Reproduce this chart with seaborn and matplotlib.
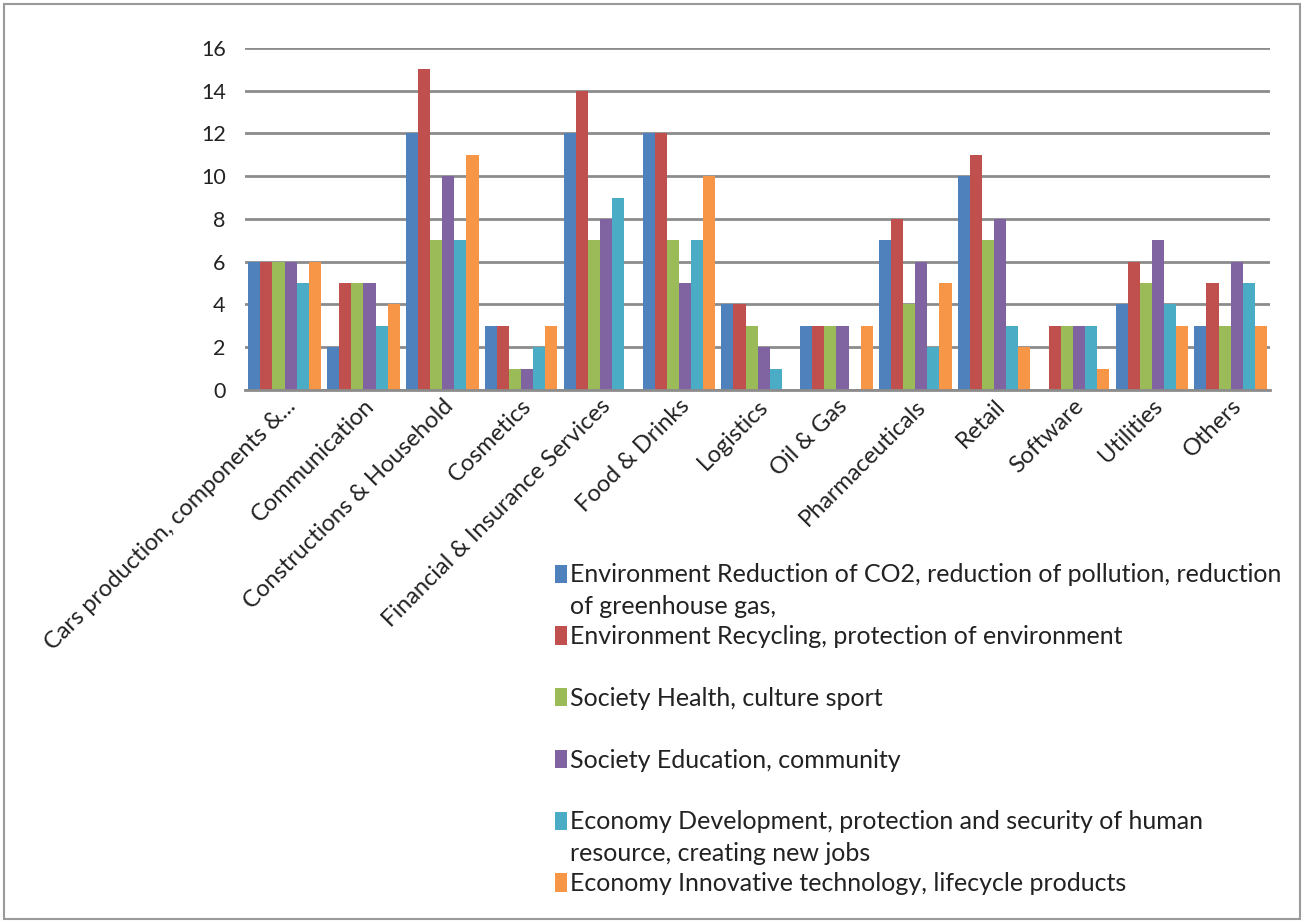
import matplotlib
matplotlib.use("Agg")
import matplotlib.pyplot as plt
import seaborn as sns
import pandas as pd
from matplotlib.patches import Rectangle

# Sectors on the x axis
sectors = [
    "Cars production, components &...",
    "Communication",
    "Constructions & Household",
    "Cosmetics",
    "Financial & Insurance Services",
    "Food & Drinks",
    "Logistics",
    "Oil & Gas",
    "Pharmaceuticals",
    "Retail",
    "Software",
    "Utilities",
    "Others",
]

# CSR themes (series); legend labels may wrap onto a second line
themes = [
    "Environment Reduction of CO2, reduction of pollution, reduction",
    "Environment Recycling, protection of environment",
    "Society Health, culture sport",
    "Society Education, community",
    "Economy Development, protection and security of human",
    "Economy Innovative technology, lifecycle products",
]
theme_wraps = ["of greenhouse gas,", "", "", "", "resource, creating new jobs", ""]

env_co2 = [6, 2, 12, 3, 12, 12, 4, 3, 7, 10, 0, 4, 3]
env_recycling = [6, 5, 15, 3, 14, 12, 4, 3, 8, 11, 3, 6, 5]
soc_health = [6, 5, 7, 1, 7, 7, 3, 3, 4, 7, 3, 5, 3]
soc_education = [6, 5, 10, 1, 8, 5, 2, 3, 6, 8, 3, 7, 6]
eco_development = [5, 3, 7, 2, 9, 7, 1, 0, 2, 3, 3, 4, 5]
eco_innovation = [6, 4, 11, 3, 0, 10, 0, 3, 5, 2, 1, 3, 3]

y_ticks = [0, 2, 4, 6, 8, 10, 12, 14, 16]

series = [env_co2, env_recycling, soc_health, soc_education, eco_development, eco_innovation]
colors = ["#4F81BD", "#C0504D", "#9BBB59", "#8064A2", "#4BACC6", "#F79646"]

rows = []
for theme, vals in zip(themes, series):
    for sector, v in zip(sectors, vals):
        rows.append({"Sector": sector, "Theme": theme, "Count": v})
df = pd.DataFrame(rows)

sns.set_theme(style="white")
plt.rcParams["font.family"] = ["Lato", "DejaVu Sans"]
TXT = "#222222"

fig = plt.figure(figsize=(13.04, 9.23), dpi=100)
ax = fig.add_axes([0.188, 0.5775, 0.786, 0.3705])

sns.barplot(data=df, x="Sector", y="Count", hue="Theme", order=sectors,
            hue_order=themes, palette=colors, width=0.92, saturation=1,
            linewidth=0, ax=ax, legend=True)

ax.set_ylim(0, 16)
ax.set_yticks(y_ticks)
ax.set_yticklabels([str(t) for t in y_ticks], fontsize=15.5, color=TXT)
ax.tick_params(axis="y", length=0, pad=14)
ax.tick_params(axis="x", length=0, pad=4)
ax.yaxis.grid(True, color="#8c8c8c", linewidth=2)
ax.set_axisbelow(True)
for s in ["top", "right", "left"]:
    ax.spines[s].set_visible(False)
ax.spines["bottom"].set_color("#8c8c8c")
ax.spines["bottom"].set_linewidth(2)
ax.set_xlabel("")
ax.set_ylabel("")
ax.set_xlim(-0.5, len(sectors) - 0.5)

for lbl in ax.get_xticklabels():
    lbl.set_rotation(45)
    lbl.set_ha("right")
    lbl.set_rotation_mode("anchor")
    lbl.set_fontsize(17)
    lbl.set_color(TXT)

handles, labels = ax.get_legend_handles_labels()
ax.get_legend().remove()
LEG_FS = 18
leg = fig.legend(handles, labels, loc="upper left",
                 bbox_to_anchor=(0.4255, 0.3895), frameon=False, fontsize=LEG_FS,
                 handlelength=0.5, handleheight=0.75, handletextpad=0.12,
                 labelspacing=1.55, borderaxespad=0, borderpad=0)
for t in leg.get_texts():
    t.set_color(TXT)

# second lines of the wrapped legend labels, set just under their first line
fig.canvas.draw()
inv = fig.transFigure.inverted()
line_step = LEG_FS * 1.25 / 72 * fig.dpi
for t, extra in zip(leg.get_texts(), theme_wraps):
    if not extra:
        continue
    bb = t.get_window_extent()
    x0, y0 = inv.transform((bb.x0, bb.y0 - line_step))
    fig.text(x0, y0, extra, fontsize=LEG_FS, color=TXT, ha="left", va="bottom")

# thin frame around the whole chart
fig.add_artist(Rectangle((0.003, 0.004), 0.994, 0.992, transform=fig.transFigure,
                         fill=False, edgecolor="#9a9a9a", linewidth=1.5))

fig.savefig("out.png", dpi=100)
